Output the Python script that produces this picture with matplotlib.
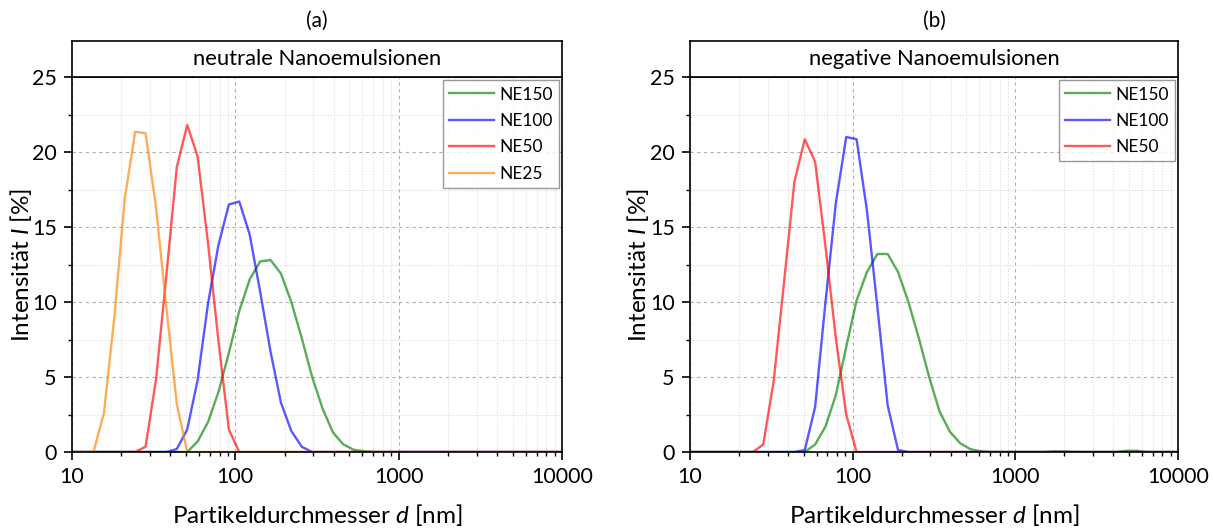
import numpy as np
import matplotlib
matplotlib.use('Agg')
import matplotlib.pyplot as plt
from matplotlib.ticker import FixedLocator, NullFormatter

plt.rcParams['font.family'] = ['Lato', 'DejaVu Sans']
plt.rcParams['mathtext.fontset'] = 'custom'
plt.rcParams['mathtext.rm'] = 'Lato'
plt.rcParams['mathtext.it'] = 'Lato:italic'

# Größenklassen (nm), wie vom Messgerät ausgegeben
sizes = [8.72, 10.1, 11.7, 13.54, 15.69, 18.17, 21.04, 24.36, 28.21, 32.67,
         37.84, 43.82, 50.75, 58.77, 68.06, 78.82, 91.28, 105.7, 122.4, 141.8,
         164.2, 190.1, 220.2, 255.0, 295.3, 342.0, 396.1, 458.7, 531.2, 615.1,
         712.4, 825.0, 955.4, 1106, 1281, 1484, 1718, 1990, 2305, 2669,
         3091, 3580, 4145, 4801, 5560, 6439, 7456, 8635, 10000]

# (a) neutrale Nanoemulsionen, Intensität in %
a_ne150 = [0, 0, 0, 0, 0, 0, 0, 0, 0, 0,
           0, 0, 0, 0.7, 2.0, 4.0, 6.6, 9.4, 11.5, 12.7,
           12.8, 11.9, 10.0, 7.6, 5.0, 2.9, 1.3, 0.5, 0.15, 0.05,
           0, 0, 0, 0, 0, 0, 0, 0, 0, 0,
           0, 0, 0, 0, 0, 0, 0, 0, 0]
a_ne100 = [0, 0, 0, 0, 0, 0, 0, 0, 0, 0,
           0, 0.2, 1.5, 4.8, 9.9, 13.8, 16.5, 16.7, 14.5, 10.7,
           6.7, 3.3, 1.4, 0.35, 0, 0, 0, 0, 0, 0,
           0, 0, 0, 0, 0, 0, 0, 0, 0, 0,
           0, 0, 0, 0, 0, 0, 0, 0, 0]
a_ne50 = [0, 0, 0, 0, 0, 0, 0, 0, 0.35, 4.8,
          11.8, 19.0, 21.8, 19.7, 13.9, 7.4, 1.5, 0, 0, 0,
          0, 0, 0, 0, 0, 0, 0, 0, 0, 0,
          0, 0, 0, 0, 0, 0, 0, 0, 0, 0,
          0, 0, 0, 0, 0, 0, 0, 0, 0]
a_ne25 = [0, 0, 0, 0, 2.6, 9.0, 16.9, 21.35, 21.25, 16.35,
          9.6, 3.2, 0, 0, 0, 0, 0, 0, 0, 0,
          0, 0, 0, 0, 0, 0, 0, 0, 0, 0,
          0, 0, 0, 0, 0, 0, 0, 0, 0, 0,
          0, 0, 0, 0, 0, 0, 0, 0, 0]

# (b) negative Nanoemulsionen
b_ne150 = [0, 0, 0, 0, 0, 0, 0, 0, 0, 0,
           0, 0, 0, 0.5, 1.7, 3.8, 7.0, 10.1, 12.0, 13.2,
           13.2, 12.0, 10.0, 7.6, 5.0, 2.7, 1.35, 0.58, 0.18, 0.05,
           0, 0, 0, 0, 0, 0, 0.04, 0.04, 0, 0,
           0, 0, 0, 0.08, 0.08, 0, 0, 0, 0]
b_ne100 = [0, 0, 0, 0, 0, 0, 0, 0, 0, 0,
           0, 0, 0.13, 3.0, 10.0, 16.6, 21.0, 20.85, 16.1, 9.7,
           3.1, 0.13, 0, 0, 0, 0, 0, 0, 0, 0,
           0, 0, 0, 0, 0, 0, 0, 0, 0, 0,
           0, 0, 0, 0, 0, 0, 0, 0, 0]
b_ne50 = [0, 0, 0, 0, 0, 0, 0, 0, 0.5, 4.7,
          11.3, 18.0, 20.85, 19.35, 13.7, 7.6, 2.5, 0, 0, 0,
          0, 0, 0, 0, 0, 0, 0, 0, 0, 0,
          0, 0, 0, 0, 0, 0, 0, 0, 0, 0,
          0, 0, 0, 0, 0, 0, 0, 0, 0]

colors = {'NE150': '#008000', 'NE100': '#0000ff', 'NE50': '#ff0000', 'NE25': '#ff8000'}

W, H = 1213, 530


def draw_panel(left_px, width_px, ylab_px, letter, header, series):
    left = left_px / W
    width = width_px / W
    bottom = (H - 452) / H
    top = (H - 77) / H
    ax = fig.add_axes([left, bottom, width, top - bottom])

    for name, vals in series:
        ax.plot(sizes, vals, color=colors[name], alpha=0.65, lw=1.7, label=name)

    ax.set_xscale('log')
    ax.set_xlim(10, 10000)
    ax.set_ylim(0, 25)
    ax.set_xticks([10, 100, 1000, 10000])
    ax.set_xticklabels(['10', '100', '1000', '10000'])
    minors = [m * 10 ** e for e in range(1, 4) for m in range(2, 10)]
    ax.xaxis.set_minor_locator(FixedLocator(minors))
    ax.xaxis.set_minor_formatter(NullFormatter())
    ax.set_yticks([0, 5, 10, 15, 20, 25])
    ax.yaxis.set_minor_locator(FixedLocator([2.5, 7.5, 12.5, 17.5, 22.5]))

    ax.grid(which='major', color='#b0b0b0', ls=(0, (3, 3)), lw=0.8)
    ax.grid(which='minor', color='#dcdcdc', ls=(0, (1, 1.5)), lw=0.8)
    ax.set_axisbelow(True)

    ax.tick_params(which='major', direction='out', length=6, width=1.2, labelsize=15.5, pad=5)
    ax.tick_params(which='minor', direction='out', length=3, width=1.0)
    for s in ax.spines.values():
        s.set_linewidth(1.2)

    ax.set_xlabel('Partikeldurchmesser $d$ [nm]', fontsize=17.5, va='center')
    ax.xaxis.set_label_coords(0.5, -63 / 375)
    ax.set_ylabel('Intensität $I$ [%]', fontsize=17.5, va='center')
    ax.yaxis.set_label_coords((ylab_px - left_px) / width_px, 0.5)

    leg = ax.legend(loc='upper right', fontsize=12.5, frameon=True, fancybox=False,
                    edgecolor='#808080', handlelength=2.6, handletextpad=0.3,
                    borderaxespad=0.2, labelspacing=0.6, borderpad=0.35)
    leg.get_frame().set_linewidth(1.0)
    for line in leg.get_lines():
        line.set_linewidth(1.7)

    # Kopfzeile mit Beschriftung
    hax = fig.add_axes([left, top, width, 36 / H])
    hax.set_xticks([])
    hax.set_yticks([])
    for s in hax.spines.values():
        s.set_linewidth(1.2)
    hax.text(0.5, 0.5, header, ha='center', va='center', fontsize=15.8, transform=hax.transAxes)

    fig.text(left + width / 2, 1 - 21 / H, letter, ha='center', va='center', fontsize=15)
    return ax


fig = plt.figure(figsize=(W / 100, H / 100), dpi=100)

draw_panel(72, 490, 21, '(a)', 'neutrale Nanoemulsionen',
           [('NE150', a_ne150), ('NE100', a_ne100), ('NE50', a_ne50), ('NE25', a_ne25)])
draw_panel(690, 488, 638, '(b)', 'negative Nanoemulsionen',
           [('NE150', b_ne150), ('NE100', b_ne100), ('NE50', b_ne50)])

fig.savefig('out.png', dpi=100)
